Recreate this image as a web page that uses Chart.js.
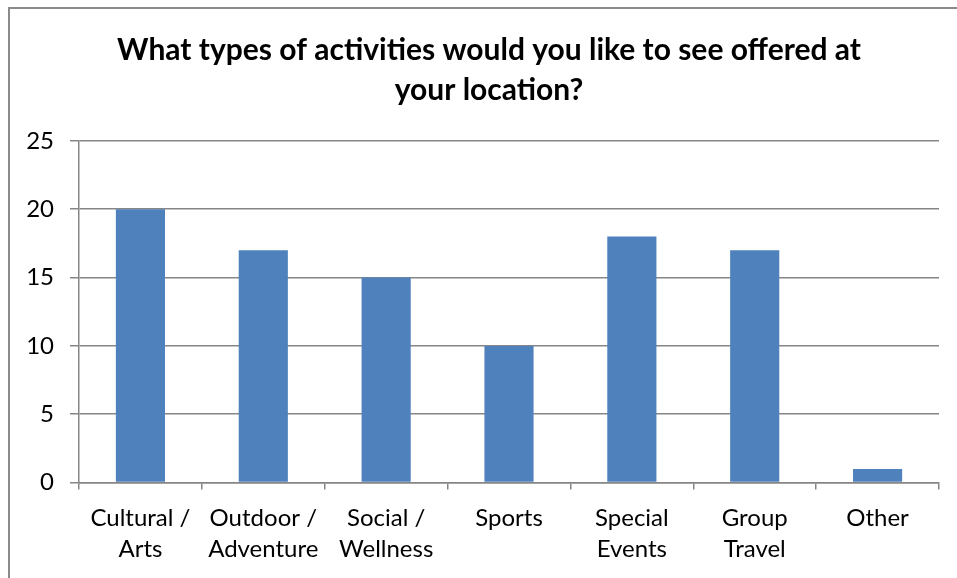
<!DOCTYPE html>
<html>
<head>
<meta charset="utf-8">
<script src="https://cdn.jsdelivr.net/npm/chart.js@4/dist/chart.umd.min.js"></script>
<style>
  html, body { margin: 0; padding: 0; background: #fff; }
  #wrap { position: relative; width: 957px; height: 578px; }
  #frame { position: absolute; left: 8px; top: 7px; right: -4px; bottom: -4px; border-top: 2px solid #8a8a8a; border-left: 2px solid #8a8a8a; pointer-events: none; }
  canvas { position: absolute; left: 0; top: 0; }
</style>
</head>
<body>
<div id="wrap">
  <canvas id="c" width="957" height="578"></canvas>
  <div id="frame"></div>
</div>
<script>
const titleLines = ["What types of activities would you like to see offered at", "your location?"];
const categories = [["Cultural /", "Arts"], ["Outdoor /", "Adventure"], ["Social /", "Wellness"], ["Sports"], ["Special", "Events"], ["Group", "Travel"], ["Other"]];
const values = [20, 17, 15, 10, 18, 17, 1];
const yTicks = [0, 5, 10, 15, 20, 25];

const FONT = "Lato, 'Open Sans', 'Liberation Sans', sans-serif";
const gridColor = '#868686';

new Chart(document.getElementById('c'), {
  type: 'bar',
  data: {
    labels: categories,
    datasets: [{
      data: values,
      backgroundColor: '#4F81BD',
      borderWidth: 0,
      categoryPercentage: 1.0,
      barPercentage: 0.4,
      yAxisID: 'y'
    }]
  },
  options: {
    responsive: false,
    animation: false,
    layout: { padding: { left: 21, right: 0, top: 0, bottom: 0 } },
    plugins: {
      legend: { display: false },
      tooltip: { enabled: false },
      title: {
        display: true,
        text: titleLines,
        color: '#000',
        font: { family: FONT, size: 30, weight: 'bold', lineHeight: 1.33 },
        padding: { top: 30, bottom: 31 }
      }
    },
    scales: {
      x: {
        offset: true,
        grid: { display: true, drawOnChartArea: false, offset: true, color: gridColor, lineWidth: 1.5, tickLength: 7, drawTicks: true },
        border: { display: true, color: gridColor, width: 1.5 },
        ticks: { color: '#000', font: { family: FONT, size: 24, lineHeight: 1.3 }, padding: 13, maxRotation: 0, autoSkip: false }
      },
      y: {
        position: 'left',
        min: 0, max: 25,
        afterFit: (s) => { s.width = 58; },
        afterBuildTicks: (s) => { s.ticks = yTicks.map(v => ({ value: v })); },
        grid: { color: gridColor, lineWidth: 1.5, tickLength: 9 },
        border: { display: true, color: gridColor, width: 1.5 },
        ticks: { color: '#000', font: { family: FONT, size: 24 }, padding: 16 }
      },
      yRight: {
        position: 'right',
        display: true,
        afterFit: (s) => { s.width = 18; },
        grid: { display: false },
        border: { display: false },
        ticks: { display: false }
      }
    }
  }
});
</script>
</body>
</html>
